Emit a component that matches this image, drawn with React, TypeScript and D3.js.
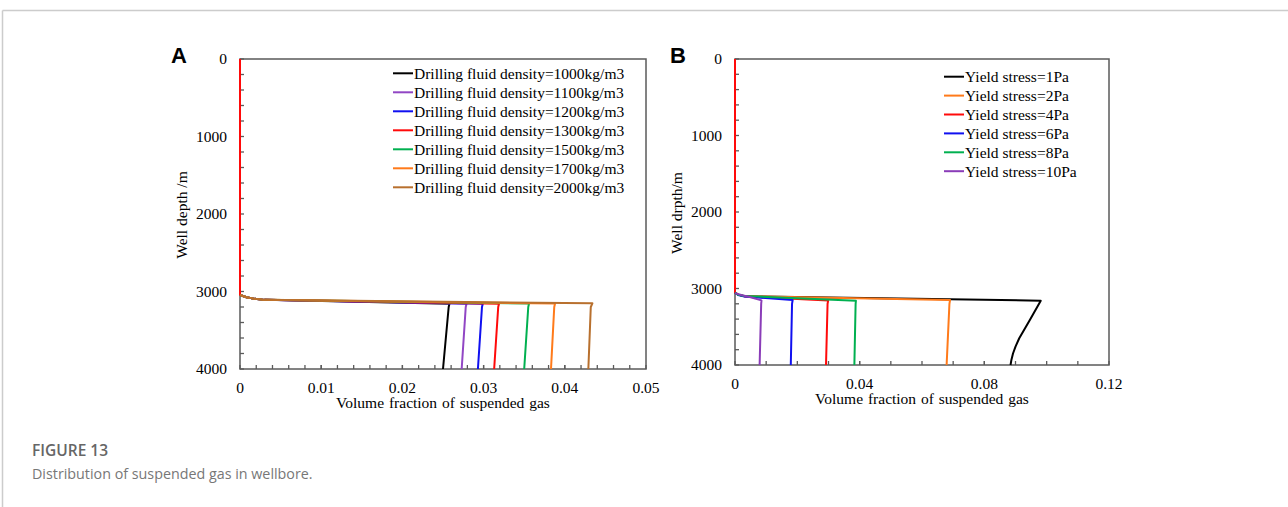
import React from "react";
import * as d3 from "d3";

type Pt = [number, number];
type Series = { label: string; color: string; points: Pt[] };

// Panel A: drilling fluid density
const densityLabels = [
  "Drilling fluid density=1000kg/m3",
  "Drilling fluid density=1100kg/m3",
  "Drilling fluid density=1200kg/m3",
  "Drilling fluid density=1300kg/m3",
  "Drilling fluid density=1500kg/m3",
  "Drilling fluid density=1700kg/m3",
  "Drilling fluid density=2000kg/m3",
];
const densityColors = ["#000000", "#9146c4", "#1010f0", "#ff0a0a", "#00b050", "#ff7a1a", "#b8702e"];
const density1000: Pt[] = [[0, 3045], [0.0008, 3075], [0.0018, 3095], [0.003, 3108], [0.0258, 3158], [0.0257, 3200], [0.025, 4000]];
const density1100: Pt[] = [[0, 3045], [0.0008, 3075], [0.0018, 3095], [0.003, 3108], [0.0279, 3158], [0.0278, 3200], [0.0273, 4000]];
const density1200: Pt[] = [[0, 3045], [0.0008, 3075], [0.0018, 3095], [0.003, 3108], [0.0299, 3157], [0.0298, 3200], [0.0293, 4000]];
const density1300: Pt[] = [[0, 0], [0, 3045], [0.0008, 3075], [0.0018, 3095], [0.003, 3108], [0.0319, 3157], [0.0318, 3200], [0.0313, 4000]];
const density1500: Pt[] = [[0, 3045], [0.0008, 3075], [0.0018, 3095], [0.003, 3108], [0.0356, 3156], [0.0355, 3200], [0.035, 4000]];
const density1700: Pt[] = [[0, 3045], [0.0008, 3075], [0.0018, 3095], [0.003, 3108], [0.0388, 3155], [0.0387, 3200], [0.0383, 4000]];
const density2000: Pt[] = [[0, 3045], [0.0008, 3075], [0.0018, 3095], [0.003, 3108], [0.0434, 3152], [0.0432, 3200], [0.0429, 4000]];
const densityValues = [density1000, density1100, density1200, density1300, density1500, density1700, density2000];

// Panel B: yield stress
const yieldLabels = [
  "Yield stress=1Pa",
  "Yield stress=2Pa",
  "Yield stress=4Pa",
  "Yield stress=6Pa",
  "Yield stress=8Pa",
  "Yield stress=10Pa",
];
const yieldColors = ["#000000", "#ff7a1a", "#ff0a0a", "#1010f0", "#00b050", "#8a3cb8"];
const yield1: Pt[] = [[0, 3055], [0.001, 3080], [0.003, 3100], [0.0981, 3159], [0.0946, 3412], [0.0912, 3650], [0.09, 3760], [0.0892, 3850], [0.0887, 3930], [0.0884, 4000]];
const yield2: Pt[] = [[0, 3055], [0.001, 3080], [0.003, 3100], [0.069, 3150], [0.0688, 3200], [0.0679, 4000]];
const yield4: Pt[] = [[0, 0], [0, 3055], [0.001, 3080], [0.003, 3102], [0.0299, 3158], [0.0297, 3200], [0.0292, 4000]];
const yield6: Pt[] = [[0, 3055], [0.001, 3085], [0.003, 3105], [0.0185, 3150], [0.0183, 3200], [0.0179, 4000]];
const yield8: Pt[] = [[0, 3055], [0.001, 3082], [0.003, 3098], [0.0388, 3160], [0.0387, 3200], [0.0383, 4000]];
const yield10: Pt[] = [[0, 3060], [0.002, 3085], [0.005, 3115], [0.0085, 3155], [0.0084, 3200], [0.0079, 4000]];
const yieldValues = [yield1, yield2, yield4, yield6, yield8, yield10];

const depthTicks = [0, 1000, 2000, 3000, 4000];
const depthMinor = [200, 400, 600, 800, 1200, 1400, 1600, 1800, 2200, 2400, 2600, 2800, 3200, 3400, 3600, 3800];
const fracTicksA = [0, 0.01, 0.02, 0.03, 0.04, 0.05];
const fracMinorStepA = 0.002;
const fracTicksB = [0, 0.04, 0.08, 0.12];
const fracMinorStepB = 0.01;

const SERIF = "'Liberation Serif', 'Times New Roman', serif";
const AXIS = "#5a5a5a";
const FS = 15.5;

function Panel(props: {
  letter: string;
  x0: number; x1: number; y0: number; y1: number;
  xMax: number; xTicks: number[]; minorStep: number;
  series: Series[];
  yTitle: string;
  legendX: number; legendY: number; legendStep: number;
  letterX: number;
}) {
  const { x0, x1, y0, y1, xMax, xTicks, minorStep, series } = props;
  const x = d3.scaleLinear().domain([0, xMax]).range([x0, x1]);
  const y = d3.scaleLinear().domain([0, 4000]).range([y0, y1]);
  const line = d3.line<Pt>().x((d) => x(d[0])).y((d) => y(d[1]));
  const nMinor = Math.round(xMax / minorStep);
  const xMinor = d3.range(1, nMinor).map((i) => i * minorStep);
  const tl = 4;
  return (
    <g>
      <text x={props.letterX} y={63} fontFamily="'Liberation Sans', Arial, sans-serif" fontWeight="bold" fontSize={22}>{props.letter}</text>
      {depthTicks.concat(depthMinor).map((t) => (
        <line key={"yt" + t} x1={x0} x2={x0 + tl} y1={y(t)} y2={y(t)} stroke={AXIS} strokeWidth={1.3} />
      ))}
      {xMinor.concat(xTicks).map((t, i) => (
        <line key={"xt" + i} x1={x(t)} x2={x(t)} y1={y1} y2={y1 - tl} stroke={AXIS} strokeWidth={1.3} />
      ))}
      <rect x={x0} y={y0} width={x1 - x0} height={y1 - y0} fill="none" stroke={AXIS} strokeWidth={1.5} />
      {series.map((s, i) => (
        <path key={i} d={line(s.points) || ""} fill="none" stroke={s.color} strokeWidth={2} strokeLinejoin="round" />
      ))}
      {depthTicks.map((t) => (
        <text key={"yl" + t} x={x0 - 13} y={y(t)} dy="0.35em" textAnchor="end" fontFamily={SERIF} fontSize={FS}>{t}</text>
      ))}
      {xTicks.map((t) => (
        <text key={"xl" + t} x={x(t)} y={y1 + 23.5} textAnchor="middle" fontFamily={SERIF} fontSize={FS}>{String(t)}</text>
      ))}
      <text x={(x0 + x1) / 2} y={y1 + 39} textAnchor="middle" fontFamily={SERIF} fontSize={FS} wordSpacing={1}>Volume fraction of suspended gas</text>
      <text transform={`translate(${x0 - 53},${(y0 + y1) / 2 + 1}) rotate(-90)`} textAnchor="middle" fontFamily={SERIF} fontSize={FS}>{props.yTitle}</text>
      {series.map((s, i) => (
        <g key={"lg" + i}>
          <line x1={props.legendX} x2={props.legendX + 20} y1={props.legendY + i * props.legendStep} y2={props.legendY + i * props.legendStep} stroke={s.color} strokeWidth={2} />
          <text x={props.legendX + 21} y={props.legendY + i * props.legendStep} dy="0.35em" fontFamily={SERIF} fontSize={FS}>{s.label}</text>
        </g>
      ))}
    </g>
  );
}

export default function App() {
  const seriesA: Series[] = densityLabels.map((label, i) => ({ label, color: densityColors[i], points: densityValues[i] }));
  const seriesB: Series[] = yieldLabels.map((label, i) => ({ label, color: yieldColors[i], points: yieldValues[i] }));
  return (
    <div style={{ position: "absolute", left: 0, top: 0 }}>
      <svg width={1288} height={507} style={{ display: "block", background: "#fff" }}>
        <line x1={2.5} x2={1288} y1={10.5} y2={10.5} stroke="#cccccc" strokeWidth={1.5} />
        <line x1={2.5} x2={2.5} y1={10.5} y2={507} stroke="#cccccc" strokeWidth={1.5} />
        <Panel letter="A" x0={240} x1={646} y0={59} y1={369} xMax={0.05} xTicks={fracTicksA} minorStep={fracMinorStepA}
          series={seriesA} yTitle="Well depth /m" legendX={393} legendY={73.3} legendStep={19} letterX={171} />
        <Panel letter="B" x0={735} x1={1109} y0={59} y1={365} xMax={0.12} xTicks={fracTicksB} minorStep={fracMinorStepB}
          series={seriesB} yTitle="Well drpth/m" legendX={944} legendY={76.7} legendStep={18.9} letterX={670} />
        <text x={32} y={456} fontFamily="'Open Sans', sans-serif" fontWeight={600} fontSize={15.5} fill="#666">FIGURE 13</text>
        <text x={32} y={479} fontFamily="'Open Sans', sans-serif" fontSize={14.3} fill="#777">Distribution of suspended gas in wellbore.</text>
      </svg>
    </div>
  );
}
